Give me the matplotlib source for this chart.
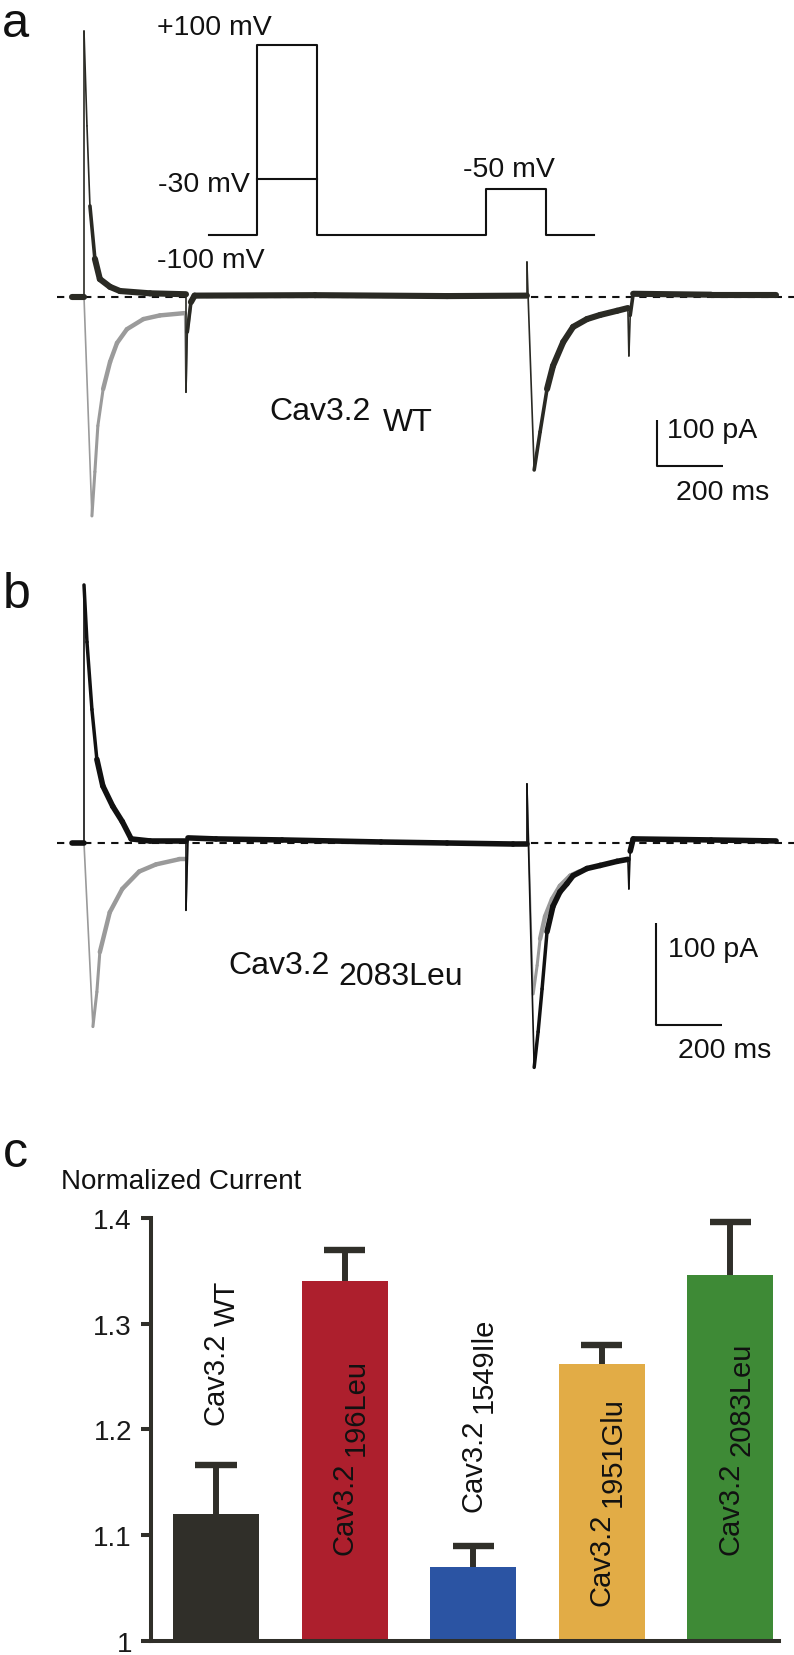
import numpy as np
import matplotlib.pyplot as plt
from matplotlib.collections import LineCollection

plt.rcParams['font.family'] = ['Liberation Sans', 'DejaVu Sans']

W, H = 794, 1656          # figure size in pixels
MS_PER_PX = 3.03          # time scale of both current panels
T0_PX = 84                # pixel column of the start of the conditioning pulse

# ---- panel a: Cav3.2 WT, current (pA) vs time (ms)
wt_dark_t = [-35, 0, 0, 9, 18, 33, 48, 79, 109, 200, 309, 309, 313, 324, 335, 700, 1100,
             1342, 1342, 1364, 1382, 1403, 1421, 1452, 1482, 1524, 1564, 1615, 1648,
             1651, 1655, 1664, 1900, 2097]
wt_dark_i = [0, 0, 578, 372, 198, 83, 39, 22, 13, 8, 6, -207, -76, -11, 3, 4, 2,
             3, 76, -376, -293, -200, -150, -98, -65, -48, -39, -30, -24,
             -128, -40, 7, 5, 5]
wt_gray_t = [-35, 0, 24, 33, 42, 58, 79, 100, 130, 180, 230, 305, 309, 313, 324, 335]
wt_gray_i = [0, 0, -476, -380, -280, -200, -141, -100, -70, -48, -40, -35, -207, -76, -11, 3]

# ---- panel b: Cav3.2 2083Leu
mut_black_t = [-35, 0, 0, 9, 24, 39, 57, 87, 116, 143, 200, 309, 309, 315, 400, 600, 900, 1100, 1300,
               1342, 1342, 1364, 1376, 1388, 1403, 1421, 1442, 1463, 1482,
               1524, 1564, 1615, 1648, 1651, 1655, 1664, 1900, 2097]
mut_black_i = [0, 0, 253, 197, 131, 82, 56, 36, 21, 4, 2, 2, -66, 5, 4, 3, 1, 0, -1,
               -1, 58, -220, -185, -143, -87, -62, -48, -40, -32,
               -25, -22, -18, -16, -45, -8, 4, 3, 2]
mut_gray_pre_t = [-35, 0, 27, 39, 48, 78, 116, 167, 218, 287, 309, 309, 315]
mut_gray_pre_i = [0, 0, -180, -146, -107, -68, -45, -28, -21, -16, -16, -66, 5]
mut_gray_test_t = [1342, 1342, 1361, 1373, 1382, 1397, 1418, 1442, 1473, 1500]
mut_gray_test_i = [-1, 58, -148, -120, -94, -72, -55, -42, -32, -28]

# ---- voltage protocol (schematic)
prot_t = [0, 240, 240, 540, 540, 1385, 1385, 1685, 1685, 1925]
prot_v = [-100, -100, 100, 100, -100, -100, -50, -50, -100, -100]
prot_mid_t = [240, 540]
prot_mid_v = [-30, -30]

# ---- panel c
variants = ['WT', '196Leu', '1549Ile', '1951Glu', '2083Leu']
norm_current = [1.120, 1.340, 1.070, 1.262, 1.346]
norm_sem = [0.046, 0.030, 0.020, 0.018, 0.050]
bar_colors = ['#302f29', '#ad1f2d', '#2b54a3', '#e2ac46', '#3e8a36']
yticks = [1.0, 1.1, 1.2, 1.3, 1.4]
yticklabels = ['1', '1.1', '1.2', '1.3', '1.4']


def px(x, y):
    return x / W, 1 - y / H


fig = plt.figure(figsize=(W / 100, H / 100), dpi=100)


def trace_axes(top, bottom, base_y, px_per_pa):
    ax = fig.add_axes([0, 1 - bottom / H, 1, (bottom - top) / H])
    ax.set_xlim(-T0_PX * MS_PER_PX, (W - T0_PX) * MS_PER_PX)
    ax.set_ylim(-(bottom - base_y) / px_per_pa, (base_y - top) / px_per_pa)
    ax.axis('off')
    ax.px_per_pa = px_per_pa
    return ax


def draw_trace(ax, t, i, color, thick, mid=2.0, thin=1.2, z=3):
    t = np.asarray(t, float)
    i = np.asarray(i, float)
    pts = np.column_stack([t, i])
    segs = np.stack([pts[:-1], pts[1:]], axis=1)
    dx = np.diff(t) / MS_PER_PX
    dy = np.abs(np.diff(i)) * ax.px_per_pa
    ratio = dy / np.maximum(dx, 1e-6)
    widths = np.where(ratio > 20, thin, np.where(ratio > 5, mid, thick))
    lc = LineCollection(segs, colors=color, linewidths=widths,
                        capstyle='round', joinstyle='round', zorder=z)
    ax.add_collection(lc)


def baseline(ax):
    ax.plot([(57 - T0_PX) * MS_PER_PX, (W - T0_PX) * MS_PER_PX], [0, 0],
            color='#111111', lw=1.5, dashes=(3.5, 3), zorder=1)


def scale_bar(ax, t0, i0):
    ax.plot([t0, t0, t0 + 200], [i0 + 100, i0, i0], color='#111111', lw=1.5,
            solid_capstyle='butt', zorder=4)


# ---------------- panel a
axa = trace_axes(0, 540, 298, 0.46)
baseline(axa)
draw_trace(axa, wt_gray_t, wt_gray_i, '#9b9b9b', thick=3.2, mid=2.2, z=2)
draw_trace(axa, wt_dark_t, wt_dark_i, '#2a2a24', thick=4.4, mid=2.6, z=3)
scale_bar(axa, 1736, -367)

# voltage protocol inset
levels_mv = [-200, -100, -50, -30, 100, 200]
levels_h = [-92, 0, 46, 56, 190, 293]
axp = fig.add_axes([209 / W, 1 - 236 / H, (594 - 209) / W, 190 / H])
axp.set_yscale('function', functions=(lambda v: np.interp(v, levels_mv, levels_h),
                                      lambda h: np.interp(h, levels_h, levels_mv)))
axp.set_xlim(0, 1925)
axp.set_ylim(-100, 100)
axp.axis('off')
axp.plot(prot_t, prot_v, color='#111111', lw=1.5, clip_on=False)
axp.plot(prot_mid_t, prot_mid_v, color='#111111', lw=1.5, clip_on=False)

lab = dict(fontsize=20.5, color='#111111', va='baseline')
fig.text(*px(157, 35), '+100 mV', ha='left', **lab)
fig.text(*px(250, 192), '-30 mV', ha='right', **lab)
fig.text(*px(157, 268), '-100 mV', ha='left', **lab)
fig.text(*px(463, 177), '-50 mV', ha='left', **lab)
fig.text(*px(667, 438), '100 pA', ha='left', **lab)
fig.text(*px(676, 500), '200 ms', ha='left', **lab)
fig.text(*px(269, 420), 'Cav3.2', ha='left', fontsize=23, va='baseline', color='#111111')
fig.text(*px(383, 431), 'WT', ha='left', fontsize=23, va='baseline', color='#111111')
fig.text(*px(2, 37), 'a', ha='left', fontsize=35, va='baseline', color='#111111')

# ---------------- panel b
axb = trace_axes(545, 1100, 844, 1.02)
baseline(axb)
draw_trace(axb, mut_gray_pre_t, mut_gray_pre_i, '#9a9a9a', thick=3.2, mid=2.2, z=2)
draw_trace(axb, mut_gray_test_t, mut_gray_test_i, '#9a9a9a', thick=3.2, mid=2.2, z=2)
draw_trace(axb, mut_black_t, mut_black_i, '#111111', thick=4.0, mid=2.5, z=3)
scale_bar(axb, 1733, -178)

fig.text(*px(668, 957), '100 pA', ha='left', **lab)
fig.text(*px(678, 1058), '200 ms', ha='left', **lab)
fig.text(*px(228, 974), 'Cav3.2', ha='left', fontsize=23, va='baseline', color='#111111')
fig.text(*px(338, 985), '2083Leu', ha='left', fontsize=23, va='baseline', color='#111111')
fig.text(*px(3, 608), 'b', ha='left', fontsize=36, va='baseline', color='#111111')

# ---------------- panel c
axc = fig.add_axes([151 / W, 1 - 1642 / H, (779 - 151) / W, (1642 - 1219) / H])
x = np.arange(len(variants))
vals = np.array(norm_current)
tops = vals + np.array(norm_sem)
axc.vlines(x, vals, tops, color='#302f29', lw=4.3, zorder=1)
axc.hlines(tops, x - 0.16, x + 0.16, color='#302f29', lw=4.6, zorder=1)
axc.bar(x, vals - 1.0, bottom=1.0, width=0.669, color=bar_colors, zorder=2)
axc.set_xlim(-0.505, 4.378)
axc.set_ylim(1.0, 1.4)
axc.set_yticks(yticks)
axc.set_yticklabels(yticklabels)
axc.set_xticks([])
for s in ['top', 'right']:
    axc.spines[s].set_visible(False)
for s in ['left', 'bottom']:
    axc.spines[s].set_linewidth(2.9)
    axc.spines[s].set_color('#302f29')
axc.tick_params(axis='y', direction='out', length=7.2, width=2.9, color='#302f29',
                pad=6.5, labelsize=20, labelcolor='#1a1a1a')

label_y = [1.205, 1.082, 1.123, 1.034, 1.082]
for i, name in enumerate(variants):
    t1 = axc.text(i, label_y[i], 'Cav3.2', rotation=90, ha='center', va='bottom',
                  fontsize=21, color='#111111', zorder=5)
    axc.annotate(name, xy=(0.5, 1), xycoords=t1, xytext=(11, 7), textcoords='offset pixels',
                 rotation=90, ha='center', va='bottom', fontsize=21, color='#111111', zorder=5)

fig.text(*px(61, 1189), 'Normalized Current', ha='left', fontsize=20, va='baseline', color='#111111')
fig.text(*px(3, 1167), 'c', ha='left', fontsize=36, va='baseline', color='#111111')

fig.savefig('out.png', dpi=100)
